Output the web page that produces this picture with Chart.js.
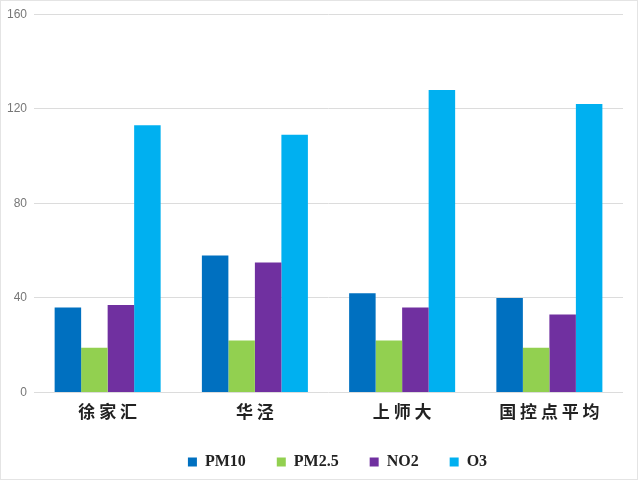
<!DOCTYPE html>
<html>
<head>
<meta charset="utf-8">
<script src="https://cdn.jsdelivr.net/npm/chart.js@4"></script>
<style>
  html, body { margin: 0; padding: 0; background: #fff; }
  #wrap { position: relative; width: 640px; height: 480px; }
  #frame { position: absolute; left: 0; top: 0; width: 636px; height: 478px; border: 1px solid #e4e4e4; pointer-events: none; }
</style>
</head>
<body>
<div id="wrap"><canvas id="chart"></canvas><div id="frame"></div></div>
<script>
// Data
const categories = ['徐 家 汇', '华 泾', '上 师 大', '国 控 点 平 均'];
const pm10 = [36, 58, 42, 40];
const pm25 = [19, 22, 22, 19];
const no2 = [37, 55, 36, 33];
const o3 = [113, 109, 128, 122];
const yTicks = [0, 40, 80, 120, 160];

const seriesNames = ['PM10', 'PM2.5', 'NO2', 'O3'];
const seriesColors = ['#0070C0', '#92D050', '#7030A0', '#00B0F0'];
const seriesData = [pm10, pm25, no2, o3];

// Nudge the legend a little to the right, like the original
const legendShift = {
    id: 'legendShift',
    afterLayout(chart) {
        if (!chart.legend) return;
        chart.legend.left += 9;
        chart.legend.right += 9;
    }
};

const ctx = document.getElementById('chart').getContext('2d');

new Chart(ctx, {
    type: 'bar',
    data: {
        labels: categories,
        datasets: seriesNames.map((name, i) => ({
            label: name,
            data: seriesData[i],
            backgroundColor: seriesColors[i],
            borderWidth: 0,
            categoryPercentage: 0.72,
            barPercentage: 1.0
        }))
    },
    options: {
        responsive: true,
        maintainAspectRatio: false,
        animation: false,
        layout: {
            padding: { left: 0, right: 17, top: 2, bottom: 0 }
        },
        scales: {
            x: {
                grid: { display: false, drawTicks: false },
                border: { display: false },
                ticks: {
                    color: '#222',
                    padding: 9,
                    font: { family: '"Noto Sans CJK SC", sans-serif', size: 17, weight: 'bold', lineHeight: 1.2 }
                }
            },
            y: {
                min: 0,
                max: 160,
                afterBuildTicks: axis => {
                    axis.ticks = yTicks.map(v => ({ value: v }));
                },
                grid: { color: '#dcdcdc', drawTicks: false },
                border: { display: false },
                ticks: {
                    color: '#777',
                    padding: 7,
                    font: { family: '"Liberation Sans", sans-serif', size: 12 }
                }
            }
        },
        plugins: {
            legend: {
                position: 'bottom',
                fullSize: false,
                labels: {
                    color: '#222',
                    boxWidth: 9,
                    boxHeight: 9,
                    padding: 23,
                    font: { family: '"Liberation Serif", serif', size: 16, weight: 'bold' },
                    // wider gaps between items without a taller legend
                    generateLabels: chart => {
                        const items = Chart.defaults.plugins.legend.labels.generateLabels(chart);
                        items.forEach((item, i) => {
                            if (i < items.length - 1) item.text += '  ';
                        });
                        return items;
                    }
                }
            },
            tooltip: { enabled: false }
        }
    },
    plugins: [legendShift]
});
</script>
</body>
</html>
